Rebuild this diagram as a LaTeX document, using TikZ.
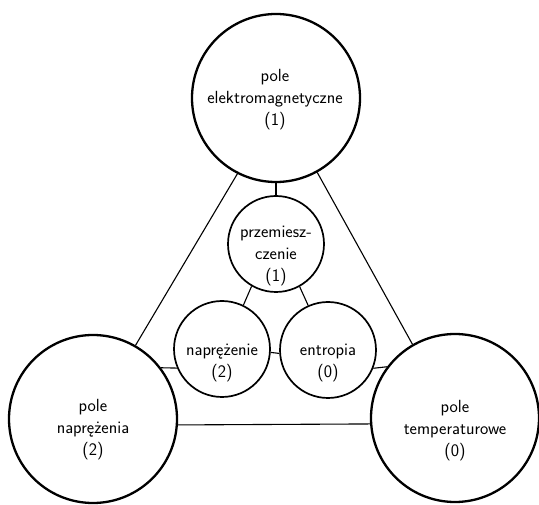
\documentclass[tikz,border=0pt]{standalone}
\usepackage{fontspec}
\begin{document}
\begin{tikzpicture}[x=1pt,y=-1pt,
  bigc/.style={circle,draw,line width=2.3pt,minimum size=168pt,inner sep=0pt},
  smallc/.style={circle,draw,line width=1.7pt,minimum size=96pt,inner sep=0pt},
  lbl/.style={align=center,font=\sffamily\fontsize{17.6}{22}\selectfont,inner sep=0pt},
  conn/.style={line width=1.1pt}]
\useasboundingbox (0,0) rectangle (539,505);
\node[bigc] (em) at (276,98) {};
\node[bigc] (pn) at (93,419) {};
\node[bigc] (pt) at (455,418) {};
\node[smallc] (prz) at (276,244) {};
\node[smallc] (nap) at (222,349) {};
\node[smallc] (ent) at (328,350) {};
\node[lbl] (tem) at (275,100) {pole\\elektromagnetyczne\\(1)};
\node[lbl] (tpn) at (93,430) {pole\\naprężenia\\(2)};
\node[lbl] (tpt) at (455,431) {pole\\temperaturowe\\(0)};
\node[lbl] (tprz) at (276,256) {przemiesz-\\czenie\\(1)};
\node[lbl] (tnap) at (222,363) {naprężenie\\(2)};
\node[lbl] (tent) at (328,363) {entropia\\(0)};
\draw[conn] (em.south) -- (prz.north);
\draw[conn] (em.243) -- (pn.60);
\draw[conn] (em.299) -- (pt.120);
\draw[conn] (pn.-4) -- (pt.184);
\draw[conn] (pn.37) -- (nap.203);
\draw[conn] (ent.-22) -- (pt.143.5);
\draw[conn] (nap.-4) -- (ent.184);
\draw[conn] (prz.240) -- (nap.64);
\draw[conn] (prz.299) -- (ent.114);
\end{tikzpicture}
\end{document}
